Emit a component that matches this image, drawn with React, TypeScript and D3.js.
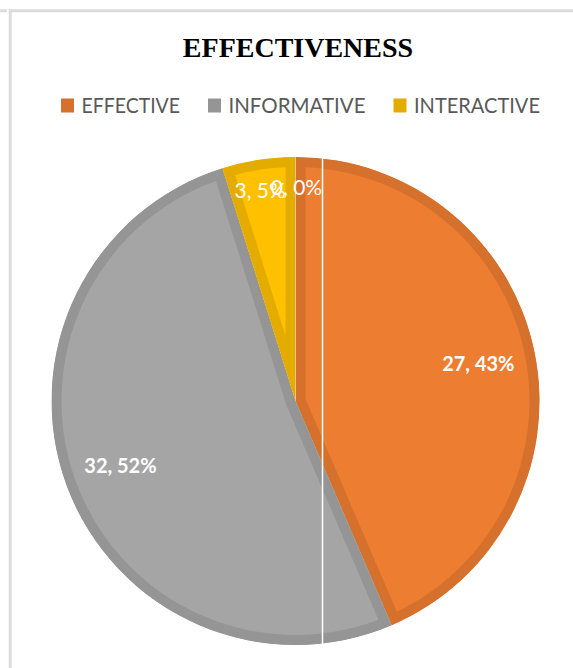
import React, { useEffect, useRef } from "react";
import * as d3 from "d3";

const categories = ["EFFECTIVE", "INFORMATIVE", "INTERACTIVE", ""];
const values = [27, 32, 3, 0];
const percents = [43, 52, 5, 0];
const fills = ["#ED7D31", "#A5A5A5", "#FFC000", "#5B9BD5"];
const edges = ["#D5712C", "#959595", "#E5AC00", "#4F86BE"];
const legendCount = 3;
const title = "EFFECTIVENESS";

const W = 573;
const H = 668;
// rendered widths of the legend labels (Calibri-like metrics)
const LEGEND_TEXT_WIDTH = [98.5, 137, 126];

export default function App() {
  const ref = useRef<SVGSVGElement | null>(null);

  useEffect(() => {
    const svg = d3.select(ref.current);
    svg.selectAll("*").remove();

    const cx = 295.5;
    const cy = 401;
    const R = 244;

    // frame
    const frame = svg.append("g").attr("stroke", "#dcdcdc").attr("stroke-width", 3);
    frame.append("line").attr("x1", 0).attr("x2", 7).attr("y1", 10.8).attr("y2", 10.8);
    frame.append("line").attr("x1", 8.7).attr("x2", W).attr("y1", 10.8).attr("y2", 10.8);
    frame.append("line").attr("x1", 10.2).attr("x2", 10.2).attr("y1", 9.3).attr("y2", H);

    // title
    const tt = svg
      .append("text")
      .attr("x", 298)
      .attr("y", 56.7)
      .attr("text-anchor", "middle")
      .attr("font-family", "'Liberation Serif', 'Times New Roman', serif")
      .attr("font-weight", "bold")
      .attr("font-size", 28)
      .attr("fill", "#000")
      .text(title);
    const ttw = (tt.node() as SVGTextElement).getComputedTextLength();
    tt.attr("textLength", Math.max(ttw, 226)).attr("lengthAdjust", "spacing");

    // legend
    const lg = svg.append("g");
    const sq = 13;
    const gapText = 7.5;
    const gapItem = 28;
    const items: { g: any; w: number }[] = [];
    for (let i = 0; i < legendCount; i++) {
      const g = lg.append("g");
      g.append("rect")
        .attr("x", 0)
        .attr("y", -14)
        .attr("width", sq)
        .attr("height", sq + 1)
        .attr("fill", edges[i]);
      const tw = LEGEND_TEXT_WIDTH[i];
      g.append("text")
        .attr("x", sq + gapText)
        .attr("y", 0)
        .attr("font-family", "Lato, 'Open Sans', sans-serif")
        .attr("font-size", 22)
        .attr("fill", "#595959")
        .attr("textLength", tw)
        .attr("lengthAdjust", "spacingAndGlyphs")
        .text(categories[i]);
      items.push({ g, w: sq + gapText + tw });
    }
    const total = items.reduce((s, it) => s + it.w, 0) + gapItem * (items.length - 1);
    let x0 = 300.5 - total / 2;
    items.forEach((it) => {
      it.g.attr("transform", `translate(${x0},112.5)`);
      x0 += it.w + gapItem;
    });

    // pie
    const pie = d3.pie<number>().sort(null).value((d) => d);
    const arcs = pie(values);
    const arc = d3.arc<d3.PieArcDatum<number>>().innerRadius(0).outerRadius(R);
    const pg = svg.append("g").attr("transform", `translate(${cx},${cy})`);
    const defs = svg.append("defs");
    arcs.forEach((a, i) => {
      if (a.endAngle - a.startAngle <= 0) return;
      const d = arc(a) as string;
      defs.append("clipPath").attr("id", `slice-clip-${i}`).append("path").attr("d", d);
      pg.append("path")
        .attr("d", d)
        .attr("fill", fills[i])
        .attr("stroke", edges[i])
        .attr("stroke-width", 20)
        .attr("stroke-linejoin", "miter")
        .attr("clip-path", `url(#slice-clip-${i})`);
    });

    // white vertical artifact line
    svg
      .append("line")
      .attr("x1", cx + 27)
      .attr("x2", cx + 27)
      .attr("y1", cy - R)
      .attr("y2", cy + R)
      .attr("stroke", "#ffffff")
      .attr("stroke-width", 1.5);

    // labels
    const sum = d3.sum(values);
    arcs.forEach((a, i) => {
      const mid = (a.startAngle + a.endAngle) / 2;
      const small = values[i] / sum < 0.1;
      const d = small ? 0.875 * R : 0.765 * R;
      let x = cx + d * Math.sin(mid);
      const y = cy - d * Math.cos(mid);
      if (values[i] === 0) x += 1;
      else if (small) x -= 3;
      svg
        .append("text")
        .attr("x", x)
        .attr("y", y)
        .attr("dy", "0.37em")
        .attr("text-anchor", "middle")
        .attr("font-family", "Lato, 'Open Sans', sans-serif")
        .attr("font-weight", small ? "normal" : "bold")
        .attr("font-size", small ? 21 : 20)
        .attr("fill", "#ffffff")
        .text(`${values[i]}, ${percents[i]}%`);
    });
  }, []);

  return (
    <svg
      ref={ref}
      width={W}
      height={H}
      style={{ position: "absolute", left: 0, top: 0, background: "#fff" }}
    />
  );
}
